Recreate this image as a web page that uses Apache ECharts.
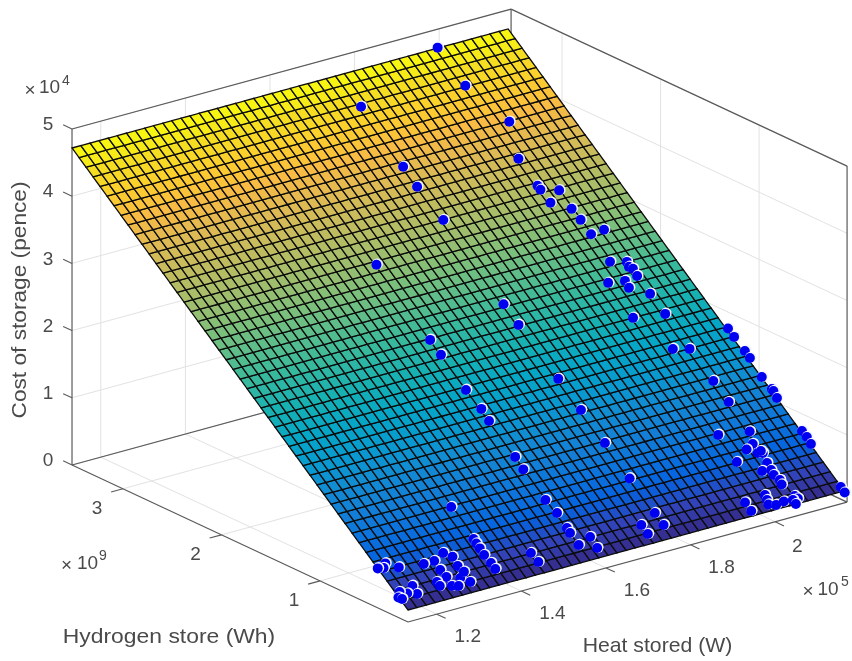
<!DOCTYPE html>
<html><head><meta charset="utf-8">
<style>html,body{margin:0;padding:0;background:#fff}#c{width:852px;height:661px;filter:blur(0.45px)}</style>
<script src="https://cdn.jsdelivr.net/npm/echarts@6/dist/echarts.min.js"></script>
</head><body><div id="c"></div>
<script>
// tick labels (heat x1e5 W, hydrogen x1e9 Wh, cost x1e4 pence)
var heatTicks=[1.2,1.4,1.6,1.8,2];
var hydrogenTicks=[1,2,3];
var costTicks=[0,1,2,3,4,5];
// scatter points
var pointHeat=[1.997,1.997,1.761,2.032,1.997,1.758,1.757,1.996,1.996,2.032,1.997,2.030,2.032,1.761,2.032,2.064,2.030,2.063,2.060,2.065,2.063,1.996,2.032,2.030,2.063,1.995,2.064,2.167,2.167,1.565,1.759,1.759,1.563,1.563,1.562,1.565,1.563,1.760,1.760,1.760,1.563,1.561,1.758,1.365,1.561,2.029,2.062,2.168,2.168,2.164,2.063,2.063,2.167,2.167,2.164,1.995,2.062,2.166,2.167,2.165,2.050,2.030,2.047,2.057,2.056,2.051,1.993,2.030,2.049,2.047,2.052,2.049,2.162,2.162,2.001,1.998,1.994,2.009,2.029,2.058,2.061,2.049,2.049,1.951,1.951,1.758,1.714,1.714,1.758,1.565,1.563,1.562,1.562,1.596,1.594,1.456,1.458,1.363,1.362,1.362,1.361,1.363,1.363,1.283,1.296,1.254,1.229,1.293,1.253,1.255,1.281,1.297,1.295,1.229,1.229,1.253,1.266,1.175,1.154,1.144,1.132,1.175,1.173,1.154,1.141,1.131,1.136];
var pointHydrogen=[3.520,3.239,3.284,2.943,2.700,2.844,2.698,2.502,2.472,2.437,2.375,2.302,2.219,2.449,2.113,2.119,1.912,1.883,1.849,1.830,1.779,1.785,1.769,1.720,1.647,1.528,1.498,1.303,1.241,2.286,1.829,1.677,1.733,1.623,1.365,1.222,1.135,1.278,1.048,0.805,0.870,0.779,0.545,0.669,0.554,1.270,1.242,1.136,1.085,0.947,1.005,0.849,0.857,0.842,0.793,0.664,0.632,0.548,0.503,0.453,0.550,0.526,0.486,0.478,0.493,0.409,0.466,0.368,0.359,0.324,0.283,0.252,0.137,0.097,0.216,0.182,0.151,0.136,0.144,0.159,0.139,0.138,0.108,0.203,0.140,0.290,0.238,0.172,0.201,0.454,0.345,0.309,0.221,0.251,0.171,0.251,0.184,0.434,0.402,0.366,0.318,0.257,0.213,0.399,0.360,0.365,0.364,0.295,0.300,0.246,0.217,0.248,0.175,0.231,0.201,0.181,0.170,0.385,0.432,0.407,0.414,0.248,0.191,0.210,0.232,0.200,0.185];
var pointCost=[47220,43477,44085,39540,36304,38224,36270,33664,33269,32803,31979,31006,29902,32971,28478,28556,25797,25416,24962,24708,24044,24120,23903,23240,22277,20690,20301,17701,16870,30793,24698,22681,23433,21957,18527,16633,15470,17368,14311,11067,11935,10731,7607,9269,7726,17252,16882,15475,14789,12962,13721,11652,11754,11557,10904,9192,8762,7638,7034,6371,7670,7353,6820,6708,6917,5798,6552,5243,5124,4658,4113,3699,2173,1632,3219,2764,2362,2153,2261,2465,2193,2182,1787,3052,2210,4207,3526,2642,3033,6402,4948,4471,3297,3695,2636,3705,2799,6141,5716,5227,4594,3781,3199,5676,5146,5222,5211,4285,4349,3641,3245,3659,2693,3432,3037,2768,2623,5484,6114,5779,5872,3664,2896,3161,3452,3024,2822];
// surface mesh: column and row positions and the cost along each row
var surfaceHeat=[1.132,1.153,1.175,1.196,1.218,1.239,1.261,1.282,1.304,1.325,1.347,1.368,1.390,1.411,1.433,1.454,1.476,1.497,1.519,1.540,1.562,1.583,1.605,1.626,1.648,1.669,1.690,1.712,1.733,1.755,1.776,1.798,1.819,1.841,1.862,1.884,1.905,1.927,1.948,1.970,1.991,2.013,2.034,2.056,2.077,2.099,2.120,2.142,2.163];
var surfaceHydrogen=[0.107,0.178,0.249,0.320,0.391,0.462,0.533,0.604,0.675,0.746,0.817,0.888,0.960,1.031,1.102,1.173,1.244,1.315,1.386,1.457,1.528,1.599,1.670,1.741,1.812,1.883,1.954,2.025,2.096,2.167,2.238,2.309,2.380,2.451,2.522,2.593,2.664,2.736,2.807,2.878,2.949,3.020,3.091,3.162,3.233,3.304,3.375,3.446,3.517];
var surfaceCost=[1786,2732,3677,4623,5568,6514,7459,8405,9350,10296,11242,12187,13133,14078,15024,15969,16915,17861,18806,19752,20697,21643,22588,23534,24479,25425,26371,27316,28262,29207,30153,31098,32044,32990,33935,34881,35826,36772,37717,38663,39608,40554,41500,42445,43391,44336,45282,46227,47173];

// axes limits
var xLim=[1.132,2.170], yLim=[0.107,3.517], zLim=[0,50000];

var parula=[[.2081,.1663,.5292],[.1959,.2645,.7279],[.0117,.3875,.8820],[.0498,.4586,.8641],[.0779,.5040,.8384],[.0641,.5570,.8240],[.0265,.6137,.8135],[.0228,.6535,.7768],[.0843,.6928,.7062],[.1801,.7177,.6424],[.3022,.7376,.5712],[.4420,.7481,.5033],[.5709,.7485,.4494],[.6834,.7435,.4044],[.7858,.7356,.3633],[.8824,.7274,.3217],[.9739,.7314,.2666],[.9880,.8066,.1794],[.9626,.8705,.1309],[.9763,.9831,.0538]];
function cmap(t){t=Math.max(0,Math.min(1,t))*(parula.length-1);var i=Math.min(Math.floor(t),parula.length-2),f=t-i,a=parula[i],b=parula[i+1];
 return 'rgb('+[0,1,2].map(function(k){return Math.round(255*(a[k]+(b[k]-a[k])*f));}).join(',')+')';}

// orthographic view
function proj(x,y,z){var u=x-xLim[0],v=y-yLim[0];
 return [408+u*423-v*98.53, 622-u*115.5-v*46.04-z*336/50000];}

var FONT='"Liberation Sans",Arial,sans-serif', TXT='#4a4a4a';
function lineEl(api,a,b,color,w){var p=api.coord(a),q=api.coord(b);return {type:'line',shape:{x1:p[0],y1:p[1],x2:q[0],y2:q[1]},style:{stroke:color,lineWidth:w},silent:true};}
function textEl(api,pos,s,size,extra){var p=api.coord(pos);var e={type:'text',x:p[0],y:p[1],style:{text:s,fill:TXT,font:size+'px '+FONT,align:'center',verticalAlign:'middle'},silent:true};if(extra)for(var k in extra)e[k]=extra[k];return e;}
function offset(p,dx,dy){return [p[0]+dx,p[1]+dy];}

function renderFrame(params,api){
 var c=[],G='#e2e2e2',D='#5a5a5a',x0=xLim[0],x1=xLim[1],y0=yLim[0],y1=yLim[1],z1=zLim[1];
 heatTicks.forEach(function(t){c.push(lineEl(api,proj(t,y0,0),proj(t,y1,0),G,1));c.push(lineEl(api,proj(t,y1,0),proj(t,y1,z1),G,1));});
 hydrogenTicks.forEach(function(t){c.push(lineEl(api,proj(x0,t,0),proj(x1,t,0),G,1));c.push(lineEl(api,proj(x1,t,0),proj(x1,t,z1),G,1));});
 costTicks.forEach(function(t){var z=t*1e4;c.push(lineEl(api,proj(x0,y1,z),proj(x1,y1,z),G,1));c.push(lineEl(api,proj(x1,y1,z),proj(x1,y0,z),G,1));});
 [[x0,y0,0,x1,y0,0],[x0,y0,0,x0,y1,0],[x0,y1,0,x1,y1,0],[x1,y0,0,x1,y1,0],[x0,y1,0,x0,y1,z1],[x1,y1,0,x1,y1,z1],[x1,y0,0,x1,y0,z1],[x0,y1,z1,x1,y1,z1],[x1,y1,z1,x1,y0,z1]].forEach(function(e){
  c.push(lineEl(api,proj(e[0],e[1],e[2]),proj(e[3],e[4],e[5]),D,1.2));});
 heatTicks.forEach(function(t){var p=proj(t,y0,0);c.push(lineEl(api,p,proj(t,y0-0.09,0),D,1.1));
  c.push(textEl(api,offset(p,t===2?22:31,t===2?25:23),String(t),19));});
 hydrogenTicks.forEach(function(t){var p=proj(x0,t,0);c.push(lineEl(api,p,proj(x0-0.028,t,0),D,1.1));
  c.push(textEl(api,offset(p,-26,20),String(t),19));});
 costTicks.forEach(function(t){var p=proj(x0,y1,t*1e4);c.push(lineEl(api,p,proj(x0,y1+0.09,t*1e4),D,1.1));
  c.push(textEl(api,offset(p,-24,-4),String(t),19));});
 // exponents
 [[[30,90.5],[49.5,88],[66,81],'4'],[[808,592],[828,590],[845,582],'5'],[[66.5,566],[87.5,564],[103,556.5],'9']].forEach(function(m){
  c.push(textEl(api,m[0],'\u00d7',19,null));c.push(textEl(api,m[1],'10',19));c.push(textEl(api,m[2],m[3],14));});
 c.push(textEl(api,[169,637],'Hydrogen store (Wh)',21,{scaleX:1.09}));
 c.push(textEl(api,[657.5,646.5],'Heat stored (W)',21,{scaleX:1.01}));
 c.push(textEl(api,[20,300],'Cost of storage (pence)',21,{rotation:Math.PI/2,scaleX:1.08}));
 return {type:'group',children:c};
}
var costMin=surfaceCost[0], costMax=surfaceCost[surfaceCost.length-1];
function renderCell(params,api){
 var i=api.value(0),j=api.value(1);
 var pts=[[i,j],[i+1,j],[i+1,j+1],[i,j+1]].map(function(q){return api.coord(proj(surfaceHeat[q[0]],surfaceHydrogen[q[1]],surfaceCost[q[1]]));});
 var mid=(surfaceCost[j]+surfaceCost[j+1])/2;
 return {type:'polygon',shape:{points:pts},style:{fill:cmap((mid-costMin)/(costMax-costMin)),stroke:'#0c0c0c',lineWidth:1.3},silent:true};
}
function renderPoint(params,api){
 var p=api.coord(proj(api.value(0),api.value(1),api.value(2)));
 return {type:'group',silent:true,children:[
  {type:'circle',shape:{cx:p[0]+0.9,cy:p[1]-0.7,r:5.6},style:{fill:'#f2f4ff'}},
  {type:'circle',shape:{cx:p[0],cy:p[1],r:5},style:{fill:'#0000f0'}}]};
}
var cells=[];for(var i=0;i<surfaceHeat.length-1;i++)for(var j=0;j<surfaceHydrogen.length-1;j++)cells.push([i,j]);
var pts=pointHeat.map(function(h,k){return [h,pointHydrogen[k],pointCost[k]];});

var chart=echarts.init(document.getElementById('c'),null,{renderer:'canvas'});
chart.setOption({animation:false,backgroundColor:'#fff',
 grid:{left:0,right:0,top:0,bottom:0},
 xAxis:{type:'value',min:0,max:852,show:false},
 yAxis:{type:'value',min:0,max:661,inverse:true,show:false},
 tooltip:{show:false},
 series:[
  {type:'custom',name:'axes',renderItem:renderFrame,data:[[0,0]],clip:false,z:1},
  {type:'custom',name:'surface',renderItem:renderCell,data:cells,clip:false,z:2,progressive:0},
  {type:'custom',name:'points',renderItem:renderPoint,data:pts,clip:false,z:3,progressive:0,encode:{x:0,y:1}}
 ]});
</script></body></html>
